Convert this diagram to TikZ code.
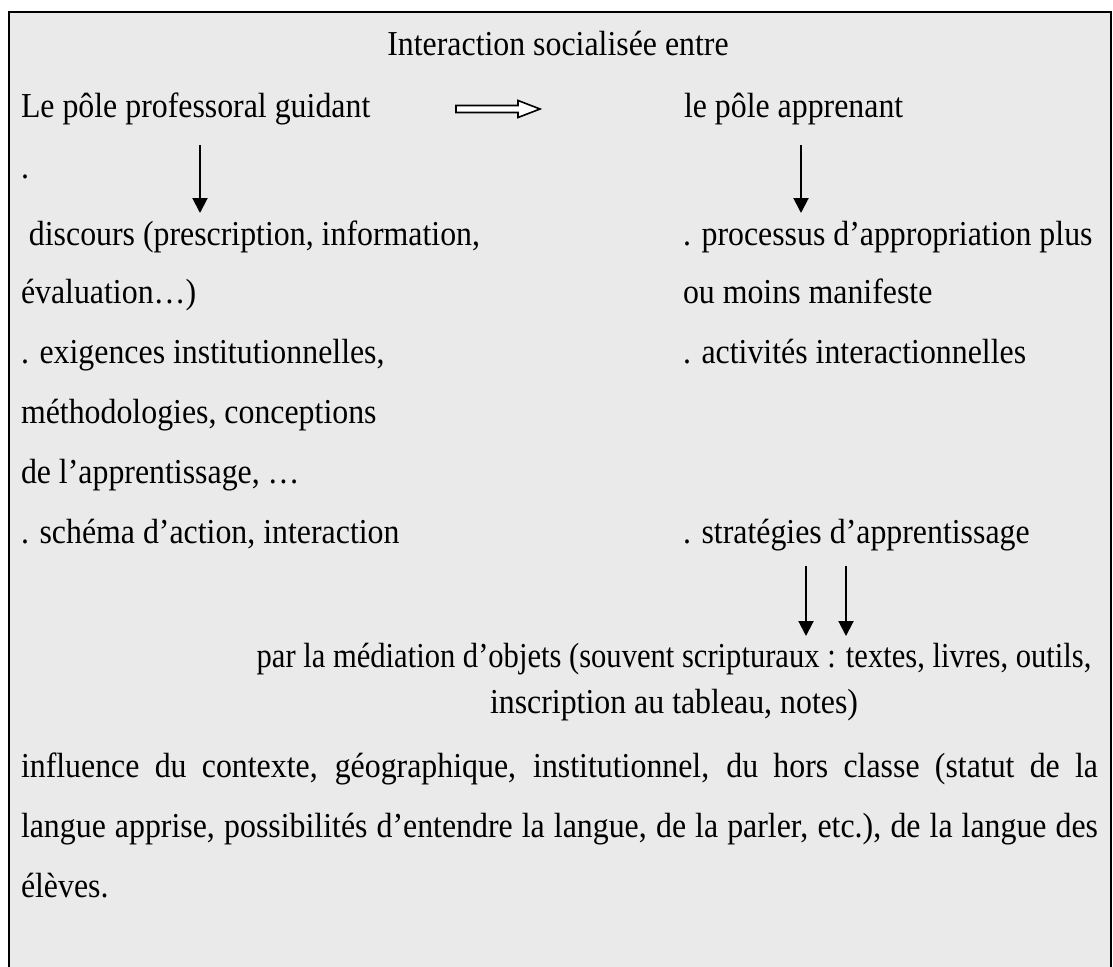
\documentclass[tikz,border=0pt]{standalone}
\usepackage{graphicx}
\usepackage{fontspec}
\setmainfont{Liberation Serif}[FakeStretch=0.91]
\usetikzlibrary{arrows.meta}
\definecolor{boxgray}{HTML}{EAEAEA}
\begin{document}
\begin{tikzpicture}[x=1pt,y=-1pt,
  txt/.style={anchor=base west, inner sep=0pt, outer sep=0pt, font=\fontsize{35}{42}\selectfont},
  ctr/.style={anchor=base, inner sep=0pt, outer sep=0pt, font=\fontsize{35}{42}\selectfont},
  downarrow/.style={-{Triangle[width=15pt,length=15pt]}, line width=2pt},
  hollow/.style={draw=black, fill=white, line width=1.6pt, line join=miter}]
\useasboundingbox (0,0) rectangle (1113,966);
\clip (0,0) rectangle (1113,966);
\fill[white] (0,0) rectangle (1113,966);
\draw[line width=2pt, fill=boxgray] (9,12) rectangle (1111,995);

% title
\node[ctr] (title) at (558,56) {Interaction socialisée entre};

% poles
\node[txt] (prof) at (21,117) {Le pôle professoral guidant};
\node[txt] (appr) at (684,117) {le pôle apprenant};
\coordinate (ha) at (456,109);
\draw[hollow] (ha) ++(0,-3.5) -- ++(62,0) -- ++(0,-5) -- ++(22,8.5) -- ++(-22,8.5) -- ++(0,-5) -- ++(-62,0) -- cycle;

% down arrows under poles
\coordinate (la1) at (200,145); \coordinate (la2) at (200,213);
\coordinate (ra1) at (801,145); \coordinate (ra2) at (801,213);
\draw[downarrow] (la1) -- (la2);
\draw[downarrow] (ra1) -- (ra2);

% left column
\node[txt] (dot) at (21,178) {.};
\node[txt] (l1) at (21,245) {\ discours (prescription, information,};
\node[txt] (l2) at (21,303) {évaluation…)};
\node[txt] (l3) at (21,363) {. exigences institutionnelles,};
\node[txt] (l4) at (21,423) {méthodologies, conceptions};
\node[txt] (l5) at (21,483) {de l’apprentissage, …};
\node[txt] (l6) at (21,543) {. schéma d’action, interaction};

% right column
\node[txt] (r1) at (683,245) {. processus d’appropriation plus};
\node[txt] (r2) at (683,303) {ou moins manifeste};
\node[txt] (r3) at (683,363) {. activités interactionnelles};
\node[txt] (r4) at (683,543) {. stratégies d’apprentissage};

% two arrows
\coordinate (ba1) at (806,566); \coordinate (ba2) at (806,636);
\coordinate (bb1) at (846,566); \coordinate (bb2) at (846,636);
\draw[downarrow] (ba1) -- (ba2);
\draw[downarrow] (bb1) -- (bb2);

% mediation
\node[ctr] (m1) at (674,667) {\scalebox{0.96}[1]{par la médiation d’objets (souvent scripturaux : textes, livres, outils,}};
\node[ctr] (m2) at (674,713) {inscription au tableau, notes)};

% influence paragraph
\node[txt] (p1) at (21,777) {\makebox[1077pt][s]{influence du contexte, géographique, institutionnel, du hors classe (statut de la}};
\node[txt] (p2) at (21,837) {\makebox[1077pt][s]{langue apprise, possibilités d’entendre la langue, de la parler, etc.), de la langue des}};
\node[txt] (p3) at (21,897) {élèves.};
\end{tikzpicture}
\end{document}
